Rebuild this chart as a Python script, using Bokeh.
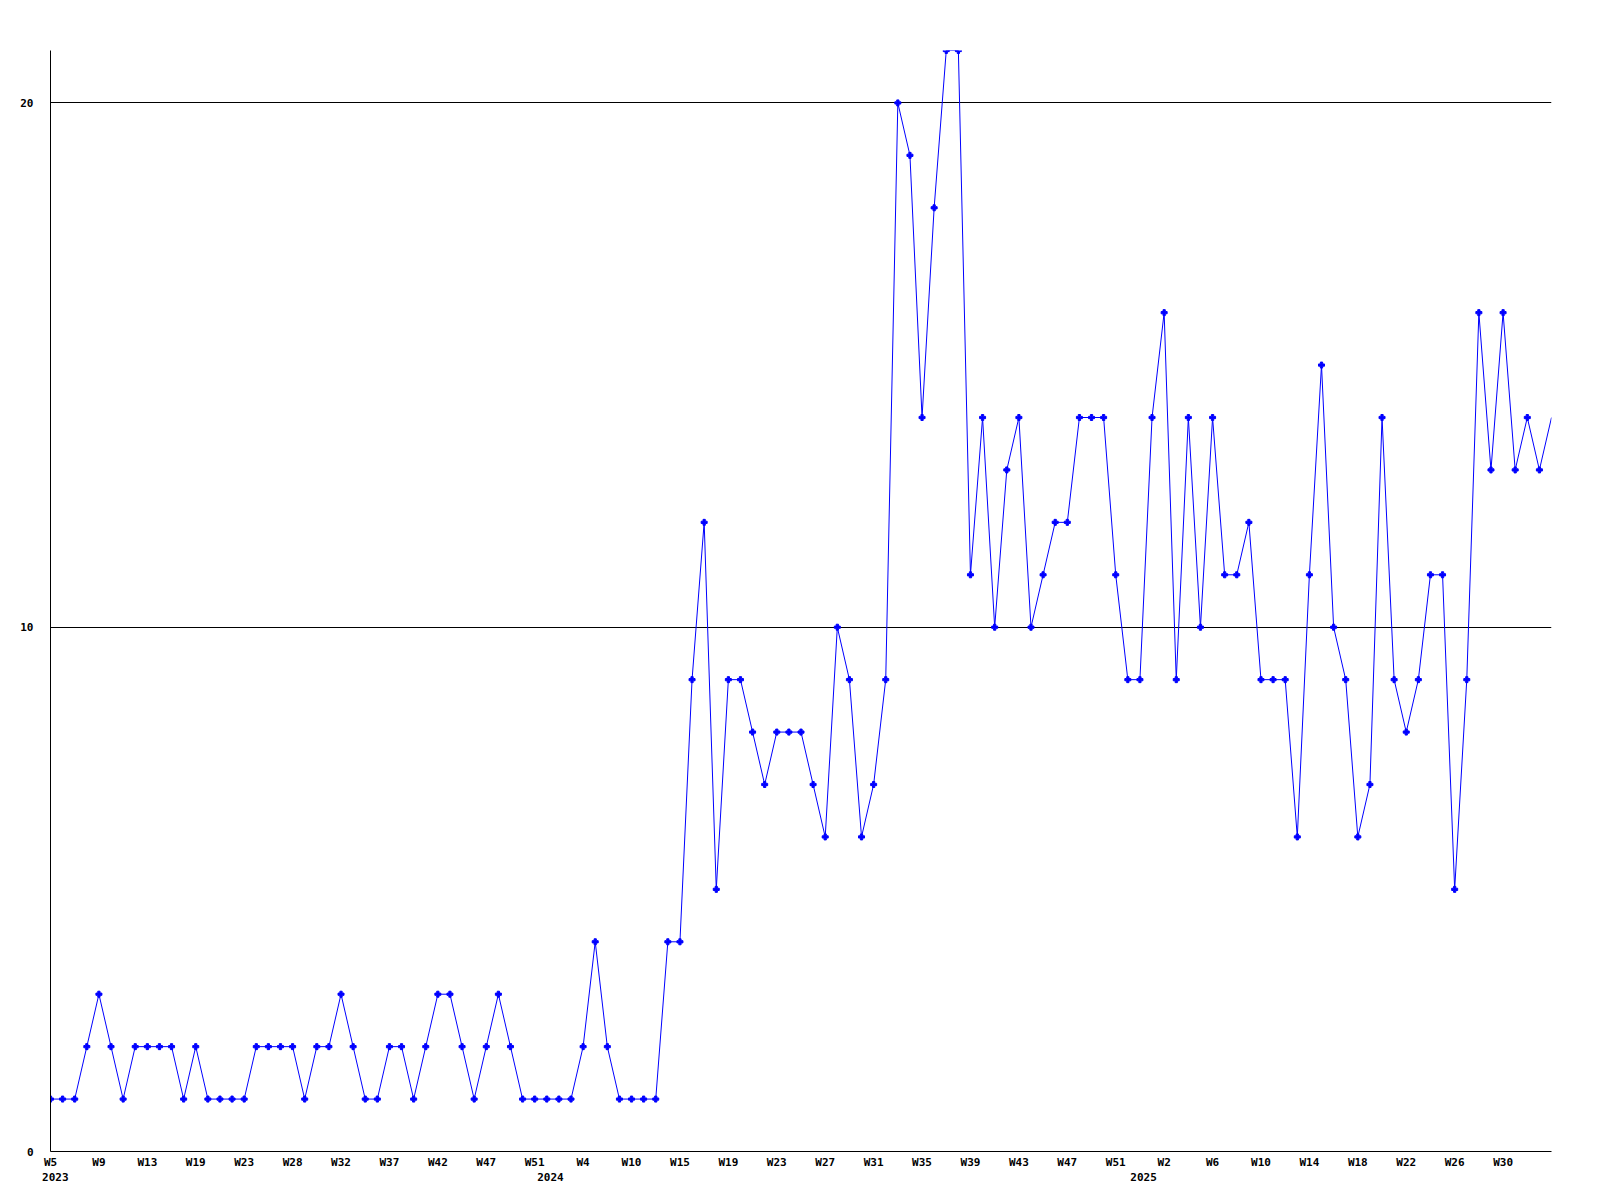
from bokeh.plotting import figure
from bokeh.models import Range1d, FixedTicker, LinearAxis
from bokeh.embed import file_html
from bokeh.resources import INLINE

# weekly counts, one per point
counts = [
    1, 1, 1, 2, 3, 2, 1, 2, 2, 2,
    2, 1, 2, 1, 1, 1, 1, 2, 2, 2,
    2, 1, 2, 2, 3, 2, 1, 1, 2, 2,
    1, 2, 3, 3, 2, 1, 2, 3, 2, 1,
    1, 1, 1, 1, 2, 4, 2, 1, 1, 1,
    1, 4, 4,
    9, 12, 5, 9, 9, 8, 7, 8, 8, 8,
    7, 6, 10, 9, 6, 7, 9, 20, 19, 14,
    18, 21, 21, 11, 14, 10, 13, 14, 10, 11,
    12, 12, 14, 14, 14, 11, 9, 9, 14, 16,
    9, 14, 10, 14, 11, 11, 12, 9, 9, 9,
    6, 11, 15, 10, 9, 6, 7, 14, 9, 8,
    9, 11, 11, 5, 9, 16, 13, 16, 13, 14,
    13, 14,
]
x_idx = list(range(len(counts)))

# tick labels, one for every 4th point
week_labels = [
    "W5", "W9", "W13", "W19", "W23", "W28", "W32", "W37", "W42", "W47", "W51",
    "W4", "W10", "W15", "W19", "W23", "W27", "W31", "W35", "W39", "W43", "W47", "W51",
    "W2", "W6", "W10", "W14", "W18", "W22", "W26", "W30",
]
label_step = 4

years = ["2023", "2024", "2025"]
year_pos = [0.4, 41.3, 90.3]

y_ticks = [0, 10, 20]

FONT = "DejaVu Sans Mono"
BLUE = "#0000ff"

p = figure(
    frame_width=1501, frame_height=1101,
    min_border_left=50, min_border_right=41, min_border_top=50, min_border_bottom=41,
    x_range=Range1d(0, len(counts) - 1), y_range=Range1d(0, 21),
    output_backend="svg", toolbar_location=None, tools="",
    x_axis_location=None, y_axis_location=None,
)
p.outline_line_color = None
p.background_fill_color = "white"
p.border_fill_color = "white"

# y axis
yax = LinearAxis(ticker=FixedTicker(ticks=y_ticks))
yax.axis_line_color = "black"
yax.axis_line_width = 1
yax.major_tick_line_color = None
yax.minor_tick_line_color = None
yax.major_tick_out = 0
yax.major_tick_in = 0
yax.major_label_standoff = 17
yax.major_label_text_font = FONT
yax.major_label_text_font_style = "bold"
yax.major_label_text_font_size = "11px"
yax.major_label_text_color = "black"
p.add_layout(yax, "left")

# x axis (week labels)
xticks = [i * label_step for i in range(len(week_labels))]
xax = LinearAxis(ticker=FixedTicker(ticks=xticks))
xax.major_label_overrides = {t: lab for t, lab in zip(xticks, week_labels)}
xax.axis_line_color = "black"
xax.axis_line_width = 1
xax.major_tick_line_color = None
xax.minor_tick_line_color = None
xax.major_tick_out = 0
xax.major_tick_in = 0
xax.major_label_standoff = 4
xax.major_label_text_font = FONT
xax.major_label_text_font_style = "bold"
xax.major_label_text_font_size = "11px"
xax.major_label_text_color = "black"
p.add_layout(xax, "below")

# year row
yrax = LinearAxis(ticker=FixedTicker(ticks=year_pos))
yrax.major_label_overrides = {t: lab for t, lab in zip(year_pos, years)}
yrax.axis_line_color = None
yrax.major_tick_line_color = None
yrax.minor_tick_line_color = None
yrax.major_tick_out = 0
yrax.major_tick_in = 0
yrax.major_label_standoff = 1
yrax.major_label_text_font = FONT
yrax.major_label_text_font_style = "bold"
yrax.major_label_text_font_size = "11px"
yrax.major_label_text_color = "black"
p.add_layout(yrax, "below")

p.xgrid.visible = False
p.ygrid.ticker = FixedTicker(ticks=y_ticks)
p.ygrid.grid_line_color = "black"
p.ygrid.grid_line_width = 1

p.line(x_idx, counts, line_color=BLUE, line_width=1)
p.scatter(x_idx[:-1], counts[:-1], marker="plus", size=6, color=BLUE)

open("out.html", "w").write(file_html(p, INLINE))
